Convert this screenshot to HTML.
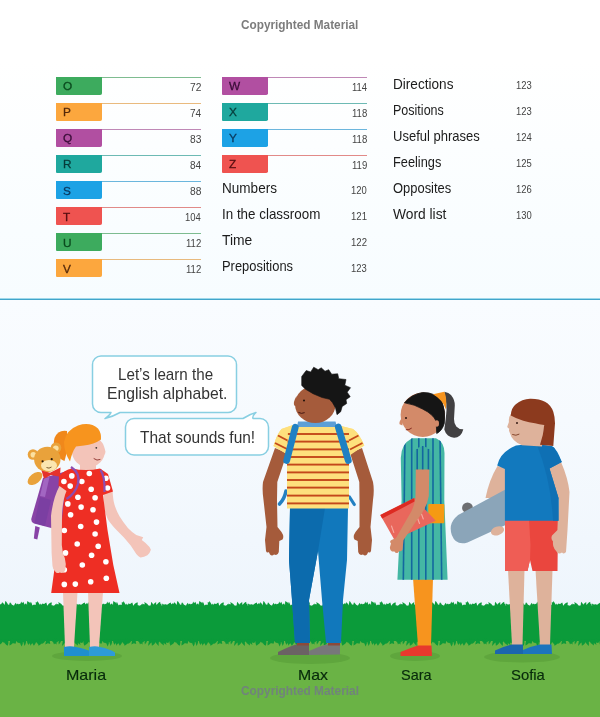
<!DOCTYPE html>
<html lang="en">
<head>
<meta charset="utf-8">
<title>Contents – Let's learn the English alphabet</title>
<style>
*{box-sizing:border-box;margin:0;padding:0}
html,body{width:600px;height:717px;overflow:hidden;background:#fff}
body{font-family:"Liberation Sans",sans-serif;color:#222;position:relative}
.page{position:absolute;left:0;top:0;width:600px;height:717px;overflow:hidden}
.contents{position:absolute;left:0;top:0;width:600px;height:299px;background:linear-gradient(#ffffff 0,#ffffff 60px,#f9fdff 230px,#f7fcff 299px)}
ul.toc{list-style:none}
.t{position:absolute;white-space:nowrap;transform-origin:0 0;display:block}
.ln{position:absolute;width:145.3px;height:1.3px;opacity:.78}
.tab{position:absolute;width:46px;height:17.6px;border-radius:0 0 1.8px 1px;font-size:11.8px;line-height:12px;font-weight:normal;padding:3.2px 0 0 6.9px;-webkit-text-stroke:.3px currentColor}
.lbl{font-size:14.3px;line-height:14.3px;color:#1c1c1c}
.num{font-size:11.8px;line-height:11.8px;color:#444}
.say{font-size:16.4px;line-height:16.4px;color:#333}
.name{font-size:14.3px;line-height:14.3px;color:#072a0b;-webkit-text-stroke:.15px #072a0b}
.wm{font-size:12px;line-height:12px;font-weight:bold;color:#7c7c7c}
.wb{color:rgba(116,108,150,.68)}
.rule{position:absolute;left:0;top:298px;width:600px;height:2px;background:linear-gradient(#9fd8ea 0,#9fd8ea 50%,#41a5cb 50%,#41a5cb 100%)}
.scene{position:absolute;left:0;top:300px;width:600px;height:417px;background:linear-gradient(#f9fcff 0,#f6fafe 120px,#f1f7fd 240px,#eef5fc 310px)}
.scene svg{position:absolute;left:0;top:-300px}
.scene .t{margin-top:-300px}
</style>
</head>
<body>
<div class="page">
  <section class="contents">
    <span class="t wm" style="left:241.21px;top:19.00px;transform:scaleX(0.9831)">Copyrighted Material</span>
    <ul class="toc">
      <li><i class="ln" style="left:56px;top:76.80px;background:#5aa971"></i><b class="tab" style="left:56px;top:77.20px;background:#3dab5e;color:#0a4a1e">O</b><span class="t num" style="left:189.67px;top:82.40px;transform:scaleX(0.8667)">72</span></li>
      <li><i class="ln" style="left:56px;top:102.83px;background:#e3a65a"></i><b class="tab" style="left:56px;top:103.23px;background:#fca73e;color:#55290a">P</b><span class="t num" style="left:189.68px;top:108.40px;transform:scaleX(0.8490)">74</span></li>
      <li><i class="ln" style="left:56px;top:128.86px;background:#ad67a2"></i><b class="tab" style="left:56px;top:129.26px;background:#b14fa1;color:#3a0d38">Q</b><span class="t num" style="left:189.67px;top:134.40px;transform:scaleX(0.8667)">83</span></li>
      <li><i class="ln" style="left:56px;top:154.89px;background:#44a79f"></i><b class="tab" style="left:56px;top:155.29px;background:#1fa89e;color:#063c3a">R</b><span class="t num" style="left:189.68px;top:160.40px;transform:scaleX(0.8490)">84</span></li>
      <li><i class="ln" style="left:56px;top:180.92px;background:#43a2d3"></i><b class="tab" style="left:56px;top:181.32px;background:#1da2e5;color:#0a3a60">S</b><span class="t num" style="left:189.67px;top:186.40px;transform:scaleX(0.8667)">88</span></li>
      <li><i class="ln" style="left:56px;top:206.95px;background:#da6967"></i><b class="tab" style="left:56px;top:207.35px;background:#ef5350;color:#560e10">T</b><span class="t num" style="left:185.10px;top:212.40px;transform:scaleX(0.8000)">104</span></li>
      <li><i class="ln" style="left:56px;top:232.98px;background:#5aa971"></i><b class="tab" style="left:56px;top:233.38px;background:#3dab5e;color:#0a4a1e">U</b><span class="t num" style="left:185.69px;top:238.40px;transform:scaleX(0.8116)">112</span></li>
      <li><i class="ln" style="left:56px;top:259.01px;background:#e3a65a"></i><b class="tab" style="left:56px;top:259.41px;background:#fca73e;color:#55290a">V</b><span class="t num" style="left:185.69px;top:264.40px;transform:scaleX(0.8116)">112</span></li>
    </ul>
<ul class="toc">
      <li><i class="ln" style="left:222px;top:76.80px;background:#ad67a2"></i><b class="tab" style="left:222px;top:77.20px;background:#b14fa1;color:#3a0d38">W</b><span class="t num" style="left:351.90px;top:82.40px;transform:scaleX(0.8000)">114</span></li>
      <li><i class="ln" style="left:222px;top:102.83px;background:#44a79f"></i><b class="tab" style="left:222px;top:103.23px;background:#1fa89e;color:#063c3a">X</b><span class="t num" style="left:351.89px;top:108.40px;transform:scaleX(0.8116)">118</span></li>
      <li><i class="ln" style="left:222px;top:128.86px;background:#43a2d3"></i><b class="tab" style="left:222px;top:129.26px;background:#1da2e5;color:#0a3a60">Y</b><span class="t num" style="left:351.89px;top:134.40px;transform:scaleX(0.8116)">118</span></li>
      <li><i class="ln" style="left:222px;top:154.89px;background:#da6967"></i><b class="tab" style="left:222px;top:155.29px;background:#ef5350;color:#560e10">Z</b><span class="t num" style="left:351.89px;top:160.40px;transform:scaleX(0.8116)">119</span></li>
      <li><span class="t lbl" style="left:221.52px;top:181.30px;transform:scaleX(0.9476)">Numbers</span><span class="t num" style="left:351.30px;top:184.50px;transform:scaleX(0.8000)">120</span></li>
      <li><span class="t lbl" style="left:221.53px;top:207.33px;transform:scaleX(0.9372)">In the classroom</span><span class="t num" style="left:351.29px;top:210.50px;transform:scaleX(0.8111)">121</span></li>
      <li><span class="t lbl" style="left:222.46px;top:233.36px;transform:scaleX(0.9705)">Time</span><span class="t num" style="left:351.29px;top:236.50px;transform:scaleX(0.8111)">122</span></li>
      <li><span class="t lbl" style="left:221.57px;top:259.39px;transform:scaleX(0.9029)">Prepositions</span><span class="t num" style="left:351.30px;top:262.50px;transform:scaleX(0.8000)">123</span></li>
    </ul>
<ul class="toc">
      <li><span class="t lbl" style="left:392.81px;top:77.30px;transform:scaleX(0.9506)">Directions</span><span class="t num" style="left:516.10px;top:80.40px;transform:scaleX(0.8000)">123</span></li>
      <li><span class="t lbl" style="left:392.90px;top:103.33px;transform:scaleX(0.8764)">Positions</span><span class="t num" style="left:516.10px;top:106.40px;transform:scaleX(0.8000)">123</span></li>
      <li><span class="t lbl" style="left:393.09px;top:129.36px;transform:scaleX(0.9099)">Useful phrases</span><span class="t num" style="left:516.10px;top:132.40px;transform:scaleX(0.8000)">124</span></li>
      <li><span class="t lbl" style="left:392.88px;top:155.39px;transform:scaleX(0.8938)">Feelings</span><span class="t num" style="left:516.10px;top:158.40px;transform:scaleX(0.8000)">125</span></li>
      <li><span class="t lbl" style="left:393.32px;top:181.42px;transform:scaleX(0.9048)">Opposites</span><span class="t num" style="left:516.10px;top:184.40px;transform:scaleX(0.8000)">126</span></li>
      <li><span class="t lbl" style="left:393.40px;top:207.45px;transform:scaleX(0.9647)">Word list</span><span class="t num" style="left:516.10px;top:210.40px;transform:scaleX(0.8000)">130</span></li>
    </ul>
  </section>
  <div class="rule"></div>
  <section class="scene">
    <svg width="600" height="717" viewBox="0 0 600 717">
      <!-- grass -->
      <g id="grass">
        <rect x="0" y="636" width="600" height="81" fill="#6ab345"/>
        <g fill="#0b9b3a"><rect x="0" y="605.6" width="600" height="35.4"/><path id="gt" d="M-1.3,608.5Q-3.2,607.7 -2.8,604.7Q0.2,604.5 0.8,606.5ZM0.7,607.5Q0.1,605.2 1.8,602.9Q3.4,605.2 2.7,607.5ZM1.9,608.2Q-0.2,606.8 -0.5,603.8Q2.4,604.6 3.5,606.8ZM3.9,608.0Q1.8,605.5 1.9,601.9Q4.9,603.9 5.8,607.0ZM5.4,607.8Q4.0,604.6 5.6,600.8Q8.4,603.8 8.2,607.2ZM7.4,608.1Q5.9,606.8 7.7,604.3Q10.7,605.0 10.4,606.9ZM8.4,606.9Q8.8,604.9 11.4,604.4Q12.1,607.0 10.5,608.1ZM9.7,607.8Q8.3,605.4 10.0,602.2Q12.8,604.4 12.6,607.2ZM12.4,608.0Q11.0,606.8 11.6,604.5Q13.9,605.2 14.2,607.0ZM13.9,607.3Q13.6,604.8 15.8,602.7Q17.4,605.4 16.3,607.7ZM15.0,607.0Q14.9,604.6 18.0,603.4Q19.6,606.3 17.9,608.0ZM16.8,606.7Q17.8,604.0 21.1,603.2Q21.2,606.7 18.9,608.3ZM18.8,608.5Q16.7,607.5 17.5,604.1Q20.9,604.1 21.5,606.5ZM20.3,607.5Q19.6,604.5 21.3,601.4Q23.1,604.4 22.5,607.5ZM21.0,607.3Q20.5,604.3 23.3,601.8Q25.3,605.0 24.1,607.7ZM23.8,607.3Q23.3,604.9 26.0,603.2Q28.0,605.7 26.8,607.7ZM25.4,606.4Q26.5,604.0 30.0,604.0Q30.1,607.5 27.7,608.6ZM27.1,607.1Q27.5,604.2 30.1,602.1Q30.6,605.4 29.1,607.9ZM28.5,608.1Q26.3,605.2 27.4,601.0Q31.0,603.3 31.4,606.9ZM30.3,607.6Q29.5,604.7 30.9,601.8Q32.7,604.5 32.3,607.4ZM31.7,607.0Q32.0,605.1 34.3,604.2Q34.9,606.6 33.6,608.0ZM33.2,606.7Q33.9,604.6 36.7,604.2Q37.1,607.1 35.3,608.3ZM34.7,606.6Q35.6,604.2 38.9,603.7Q39.1,606.9 36.9,608.4ZM37.3,607.7Q36.1,604.6 37.5,601.1Q39.9,604.0 39.6,607.3ZM38.1,608.5Q35.4,606.3 35.8,602.1Q39.8,603.3 40.9,606.5ZM39.8,607.5Q39.0,605.5 40.8,603.4Q42.7,605.4 42.1,607.5ZM42.1,607.6Q41.2,605.6 42.5,603.3Q44.4,605.2 44.1,607.4ZM42.9,607.0Q42.8,604.1 46.2,602.4Q47.9,605.8 46.1,608.0ZM45.3,608.5Q42.7,607.2 42.4,603.6Q46.1,603.9 47.4,606.5ZM47.1,606.7Q47.8,603.5 51.6,602.2Q52.3,606.1 49.9,608.3ZM48.4,607.3Q48.4,604.8 50.6,602.9Q51.7,605.6 50.5,607.7ZM49.7,608.1Q48.2,607.1 48.8,604.6Q51.3,605.0 51.6,606.9ZM51.9,608.1Q50.4,607.0 50.8,604.7Q53.1,605.2 53.5,606.9ZM53.2,606.9Q54.1,604.7 56.8,603.9Q56.7,606.7 54.9,608.1ZM55.2,607.8Q54.1,606.2 55.4,603.9Q57.7,605.2 57.5,607.2ZM56.7,606.3Q57.4,604.4 60.5,605.1Q60.8,608.2 58.7,608.7ZM58.7,608.2Q56.6,606.6 56.3,603.6Q59.2,604.5 60.3,606.8ZM59.7,608.4Q57.7,607.2 58.6,604.0Q61.9,604.3 62.3,606.6ZM61.1,608.3Q58.5,606.0 58.3,601.9Q62.0,603.5 63.3,606.7ZM63.6,606.5Q64.3,604.8 67.0,605.3Q67.3,608.0 65.5,608.5ZM65.5,607.8Q64.1,605.1 65.3,601.8Q67.8,604.2 67.8,607.2ZM66.2,606.9Q66.9,603.8 70.2,602.1Q70.7,605.8 68.6,608.1ZM68.2,606.3Q69.1,604.3 72.3,604.8Q72.4,608.0 70.3,608.7ZM70.1,606.9Q70.6,603.6 74.1,601.8Q75.2,605.7 73.0,608.1ZM71.6,608.4Q69.2,607.2 68.6,604.0Q71.9,604.3 73.3,606.6ZM72.7,607.1Q72.7,604.9 75.2,603.5Q76.3,606.1 74.9,607.9ZM75.6,606.3Q76.8,603.9 80.4,604.3Q80.3,607.9 77.8,608.7ZM77.3,608.0Q75.6,606.3 76.2,603.4Q78.9,604.6 79.4,607.0ZM77.9,606.6Q78.5,604.5 81.5,604.5Q82.0,607.5 80.1,608.4ZM80.2,606.8Q80.7,604.2 84.0,603.1Q84.8,606.5 82.8,608.2ZM80.7,606.7Q81.2,603.7 84.8,602.5Q85.8,606.2 83.6,608.3ZM83.7,607.0Q84.3,604.4 87.1,603.1Q87.5,606.2 85.7,608.0ZM1.4,640.0Q1.8,643.3 -1.4,645.8Q-3.5,642.3 -1.9,639.4ZM3.2,640.5Q2.2,643.9 -1.7,645.4Q-1.9,641.2 0.7,638.9ZM5.1,638.9Q6.9,640.0 5.6,642.9Q2.4,642.7 2.3,640.5ZM7.5,639.2Q9.3,642.0 7.6,645.8Q4.1,643.5 4.2,640.2ZM9.1,640.5Q7.5,642.8 4.4,643.2Q5.2,640.1 7.6,638.9ZM12.6,638.8Q15.1,640.3 15.5,643.8Q11.9,643.3 10.6,640.6ZM14.2,640.5Q13.4,643.8 9.6,645.4Q9.0,641.3 11.4,638.9ZM15.8,639.5Q16.8,641.6 15.3,644.0Q13.1,642.1 13.5,639.9ZM17.6,639.0Q19.7,640.4 19.9,643.3Q17.0,642.7 16.0,640.4ZM20.2,638.8Q22.4,640.1 22.3,643.5Q19.0,643.0 18.0,640.6ZM22.7,639.6Q23.7,642.9 21.7,646.4Q19.4,643.2 20.0,639.8ZM24.8,640.4Q24.6,642.2 22.0,642.5Q21.1,640.0 22.6,639.0ZM26.1,639.8Q26.6,642.9 24.7,645.9Q23.0,642.7 23.8,639.6ZM29.6,639.7Q30.4,642.3 28.5,645.0Q26.5,642.4 27.1,639.7ZM31.3,639.6Q32.2,642.6 30.8,645.8Q28.8,643.0 29.1,639.8ZM33.4,639.7Q34.3,641.8 31.9,644.0Q29.4,641.9 30.3,639.7ZM36.1,639.9Q36.8,643.0 33.9,645.8Q31.6,642.5 32.9,639.5ZM38.0,639.3Q39.6,641.4 38.4,644.5Q35.5,642.8 35.5,640.1ZM39.6,638.8Q42.0,640.1 42.3,643.5Q38.9,643.1 37.7,640.6ZM42.7,640.4Q42.3,643.8 38.5,645.7Q37.4,641.6 39.7,639.0ZM44.4,640.6Q43.1,643.9 39.1,645.2Q39.0,640.9 41.8,638.8ZM45.4,640.2Q44.9,642.6 42.4,644.1Q41.9,641.2 43.6,639.2ZM47.8,638.7Q50.3,640.3 50.2,644.1Q46.5,643.5 45.4,640.7ZM50.0,640.6Q49.0,643.5 45.4,644.5Q45.2,640.7 47.7,638.8ZM53.1,638.9Q56.0,640.8 57.1,644.5Q53.4,643.4 51.4,640.5ZM55.0,638.8Q57.2,640.3 56.3,643.9Q52.7,643.3 52.2,640.6ZM56.6,640.1Q56.7,642.6 54.0,644.4Q52.6,641.4 54.0,639.3ZM58.5,640.8Q57.5,643.0 54.2,642.6Q54.3,639.4 56.5,638.6ZM61.3,640.0Q61.1,642.5 58.9,644.4Q58.0,641.6 59.3,639.4ZM63.3,638.9Q65.6,640.2 66.4,643.1Q63.4,642.7 61.9,640.5ZM66.0,640.1Q65.2,643.5 62.3,646.0Q62.0,642.2 64.0,639.3ZM66.8,640.4Q65.5,643.3 62.1,644.6Q62.5,641.0 64.9,639.0ZM70.1,640.3Q69.6,643.8 65.9,645.8Q65.0,641.7 67.2,639.1ZM71.7,639.2Q73.6,642.1 72.6,646.0Q69.4,643.6 69.0,640.2ZM73.9,639.9Q74.5,641.7 71.9,643.1Q69.8,641.1 70.9,639.5ZM75.8,639.0Q78.2,641.5 77.9,645.5Q74.2,643.8 73.3,640.4ZM77.5,639.1Q79.9,641.3 80.5,644.9Q77.2,643.3 75.8,640.3ZM80.5,638.8Q82.6,639.8 82.5,643.0Q79.4,642.9 78.5,640.6ZM82.5,640.3Q82.5,642.3 79.7,643.0Q78.5,640.4 80.1,639.1ZM84.1,640.2Q83.7,642.2 81.3,643.0Q80.8,640.5 82.3,639.2Z"/><use href="#gt" x="86"/><use href="#gt" x="172"/><use href="#gt" x="258"/><use href="#gt" x="344"/><use href="#gt" x="430"/><use href="#gt" x="516"/><use href="#gt" x="602"/></g>
      </g>
      <!-- shadows -->
      <g fill="#5fa63d">
        <ellipse cx="87" cy="656" rx="35" ry="5"/>
        <ellipse cx="310" cy="658" rx="40" ry="6"/>
        <ellipse cx="415" cy="656" rx="25" ry="5"/>
        <ellipse cx="522" cy="657" rx="38" ry="5.5"/>
      </g>

      <!-- speech bubbles -->
      <g fill="#fff" stroke="#88cfe2" stroke-width="1.5" stroke-linejoin="round">
        <path d="M101,356 H228 a8.5,8.5 0 0 1 8.5,8.5 V404 a8.5,8.5 0 0 1 -8.5,8.5 H120 Q112,417 105,418.5 Q110,415 111,412.5 H101 a8.5,8.5 0 0 1 -8.5,-8.5 V364.5 a8.5,8.5 0 0 1 8.5,-8.5 Z"/>
        <path d="M134,418.5 H243 Q250,414 256,412.5 Q252,416 253,418.5 H260 a8.5,8.5 0 0 1 8.5,8.5 V446.5 a8.5,8.5 0 0 1 -8.5,8.5 H134 a8.5,8.5 0 0 1 -8.5,-8.5 V427 a8.5,8.5 0 0 1 8.5,-8.5 Z"/>
      </g>

      <!-- Maria -->
      <g id="maria">
        <!-- ponytail -->
        <path d="M67,431 Q58,429.5 54.5,438 Q52,447 57,455 Q60,459.5 64.5,461 Q69,448 67,431 Z" fill="#f0881b"/>
        <!-- teddy -->
        <g>
          <ellipse cx="35" cy="478.5" rx="5" ry="8.5" transform="rotate(52 35 478.5)" fill="#e9a23b"/>
          <circle cx="33" cy="454.5" r="5.3" fill="#e9a23b"/><circle cx="33.3" cy="454.8" r="2.8" fill="#fbe0a0"/>
          <circle cx="56" cy="447.8" r="5.3" fill="#e9a23b"/><circle cx="55.8" cy="448.2" r="2.8" fill="#fbe0a0"/>
          <ellipse cx="47.3" cy="459.3" rx="13.2" ry="12.6" fill="#e9a23b"/>
          <ellipse cx="49" cy="465.5" rx="8" ry="5.6" fill="#fbe6b0"/>
          <circle cx="42.6" cy="461.3" r="1.1" fill="#2a1a0a"/><circle cx="51.7" cy="459.2" r="1.1" fill="#2a1a0a"/>
          <path d="M46.5,467.5 Q49,469 51.5,467" fill="none" stroke="#5a3a10" stroke-width=".8"/>
        </g>
        <!-- backpack -->
        <path d="M43,478 L74,469 Q80,470 79,476 L62,526 Q60,530 55,529 L34,523.5 Q30.5,522 31.5,518 Z" fill="#8843a6"/>
        <path d="M35.3,526 L39.8,527.5 L37.3,539.5 L33.8,538.5 Z" fill="#8843a6"/>
        <path d="M40,497 L51,500 L45,526 L34.5,523 Z" fill="#7b3fa2"/>
        <path d="M44,478.5 L49.5,477 L45,497 L40,496 Z" fill="#a266c2"/>
        <path d="M41.5,470.5 L50,472.8 L60.5,467.5 L60,476.8 L51,475 L44,478.8 Z" fill="#e5322b"/>
        <!-- legs -->
        <path d="M63,592 L77.5,592 L74,647 L65,647 Z" fill="#f3c4b9"/>
        <path d="M88,592 L103,592 L99,647 L90,647 Z" fill="#f3c4b9"/>
        <!-- shoes -->
        <path d="M64,647 Q70,645.5 76,647 Q86,649 92,652 L92,656 L64,656 Z" fill="#1f8fcf"/>
        <path d="M89,647 Q95,645.5 100,647 Q110,649 115,652.5 L115,656 L89,656 Z" fill="#2d9bd8"/>
        <!-- right arm -->
        <path d="M103.5,493 L112.6,491 Q113,500 114.6,505.1 Q116.5,511 119.5,516.3 Q123,522 127.9,528.1 Q132,532.5 136.3,535.1 L143.2,537.2 L141.8,540 Q146,543 149.5,546.9 L150.9,549.7 Q150,553 147.4,555.3 Q144,557.5 140.4,557.4 Q138,556 136.3,553.9 L130.7,545.5 Q127,541 123.7,537.2 L115.3,528.8 Q110,523 107.7,519 Q105,513 104.2,507.9 Z" fill="#f3c4b9"/>
        <!-- neck/face -->
        <rect x="80" y="461" width="16" height="11" fill="#f3c4b9"/>
        <ellipse cx="88.4" cy="451.3" rx="16.5" ry="15.8" fill="#f3c4b9"/>
        <path d="M103.5,447.5 Q107,451.5 104.3,455 Z" fill="#f3c4b9"/>
        <!-- dress -->
        <path d="M72,468.5 Q86,471.5 100,468.5 L108,474 L113,491.5 L103,495 L107.5,530 L113.3,565 L119.5,593 L51.2,593 L55,565 L62,520 L65,490.5 L58.5,486 L59,476 Q64,470 72,468.5 Z" fill="#ee2e24"/>
        <g fill="#fff"><circle cx="71.8" cy="475.9" r="2.8"/><circle cx="89.3" cy="473.5" r="2.8"/><circle cx="63.9" cy="481.5" r="2.8"/><circle cx="70.2" cy="486.1" r="2.8"/><circle cx="81.8" cy="481.5" r="2.8"/><circle cx="91.2" cy="489.2" r="2.8"/><circle cx="105.9" cy="478.2" r="2.8"/><circle cx="107.5" cy="488" r="2.8"/><circle cx="77.9" cy="497.3" r="2.8"/><circle cx="95.1" cy="497.8" r="2.8"/><circle cx="67.8" cy="503.9" r="2.8"/><circle cx="81.1" cy="507.1" r="2.8"/><circle cx="93" cy="509.7" r="2.8"/><circle cx="70.6" cy="514.8" r="2.8"/><circle cx="96.5" cy="522.1" r="2.8"/><circle cx="80.7" cy="526.5" r="2.8"/><circle cx="64.3" cy="530.5" r="2.8"/><circle cx="95.1" cy="534" r="2.8"/><circle cx="77.2" cy="544" r="2.8"/><circle cx="98.2" cy="546.3" r="2.8"/><circle cx="65.5" cy="552.9" r="2.8"/><circle cx="91.6" cy="555.2" r="2.8"/><circle cx="105.9" cy="561.7" r="2.8"/><circle cx="82.3" cy="565" r="2.8"/><circle cx="64.3" cy="569.7" r="2.8"/><circle cx="106.3" cy="578.3" r="2.8"/><circle cx="90.7" cy="581.8" r="2.8"/><circle cx="64.3" cy="584.4" r="2.8"/><circle cx="75.3" cy="584.1" r="2.8"/></g>
        <!-- straps -->
        <path d="M71,467 Q80.5,473 78,484 Q75,494 66.5,499" fill="none" stroke="#8d4db0" stroke-width="2.4"/>
        <path d="M100.5,470 Q105,476 104.5,492" fill="none" stroke="#8d4db0" stroke-width="2.2"/>
        <!-- left arm -->
        <path d="M59.5,486 Q53,498 51,516 L51.6,553 L52.5,566 Q53,569.5 54.5,570.5 L56,572.5 Q58,573.5 59.5,572.5 L62,573 Q64.5,572.5 65.3,570 L65.8,564 Q65.5,558 63,553.5 L61.8,545 L62,516 Q62.5,500 66.5,491 Z" fill="#f3c4b9"/>
        <!-- hair -->
        <path d="M70,461.5 Q64,452 64,442 Q66,430 78,425.5 Q90,421.5 98,428.5 Q101.5,433 101,439.5 Q94,444.5 84,445.5 L76,446.5 Q72,452 70,461.5 Z" fill="#f7941e"/>
        <circle cx="96.3" cy="447.8" r=".9" fill="#333"/>
        <path d="M94,458.7 Q97,461.2 100,459.6" fill="none" stroke="#8a2f2a" stroke-width=".9" stroke-linecap="round"/>
      </g>

      <!-- Max -->
      <g id="max">
        <!-- shoes -->
        <path d="M278,655 L278,652 Q290,646 298,644 L309,644 L309,655 Z" fill="#6b6264"/>
        <path d="M309,655 L309,651 Q320,646 328,644 L340,644 L340,654.5 Z" fill="#77777a"/>
        <rect x="297" y="642" width="12" height="3.5" fill="#8c4a3a"/>
        <rect x="328" y="642" width="12" height="3.5" fill="#8c4a3a"/>
        <!-- jeans -->
        <path d="M290,508 L348,508 L347,560 L343,600 L341,643 L326,643 L322,600 L318,551 L309,600 L310,643 L295,643 L292,600 L289,560 Z" fill="#1178bc"/>
        <path d="M290,508 L325,508 L318,551 L309,600 L310,643 L295,643 L292,600 L289,560 Z" fill="#0c6bad"/>
        <!-- arms -->
        <path d="M275,448 L263,482 Q262,490 263.5,500 L266.5,527 L265,540 L266,551 Q267,553.5 268.8,552 L270,554.5 Q272,556.5 274,554.5 L276,555 Q278,555 278.8,552 L279.3,541 L282.5,539.5 Q284.5,536.5 281.5,532 L277.5,527 L277,500 L277.3,482 L287,453 Z" fill="#a55b3b"/>
        <path d="M362,448 L373,482 Q374.5,490 373,500 L370.5,527 L372,540 L371,551 Q370,553.5 368.2,552 L367,554.5 Q365,556.5 363,554.5 L361,555 Q359,555 358.2,552 L357.7,541 L354.5,539.5 Q352.5,536.5 355.5,532 L359.5,527 L359.5,500 L359.3,482 L350,453 Z" fill="#a55b3b"/>
        <!-- backpack side bits -->
        <path d="M286,491 Q284.5,499 279.5,504" stroke="#2380c2" stroke-width="3.6" stroke-linecap="round" fill="none"/>
        <path d="M349.5,497 L354.3,504.5" stroke="#2380c2" stroke-width="3.2" stroke-linecap="round" fill="none"/>
        <!-- shirt -->
        <path d="M293,425 L337,425 L353,429 Q359,433 364.3,445.5 L351,454.5 L349,458 L349,508.6 L287,508.6 L287,458 L285.5,453.5 L273.5,446 Q277,434 281.5,429 Z" fill="#fee07d"/>
        <g fill="#c4481a"><rect x="287" y="433.05" width="62" height="1.9"/><rect x="287" y="440.65" width="62" height="1.9"/><rect x="287" y="448.45" width="62" height="1.9"/><rect x="287" y="456.05" width="62" height="1.9"/><rect x="287" y="463.65" width="62" height="1.9"/><rect x="287" y="471.45" width="62" height="1.9"/><rect x="287" y="479.05" width="62" height="1.9"/><rect x="287" y="486.65" width="62" height="1.9"/><rect x="287" y="494.65" width="62" height="1.9"/><rect x="287" y="502.45" width="62" height="1.9"/></g>
        <path d="M273.5,446 Q277,434 281.5,429 L293,425 L288,431 L287,454 Z" fill="#fee07d"/>
        <path d="M364.3,445.5 Q359,433 353,429 L337,425 L349,431 L349.5,454.5 Z" fill="#fee07d"/>
        <g stroke="#c4481a" stroke-width="1.9" fill="none">
          <path d="M278,435.5 L287.5,440.5"/><path d="M275,443 L287,449"/>
          <path d="M358.5,435.5 L349,440.5"/><path d="M362.5,443 L350,449.5"/>
        </g>
        <!-- straps -->
        <path d="M298,421.5 L335.5,421.5 L337,427 L297,427 Z" fill="#5d9fd6"/>
        <path d="M295.3,427.2 L286.7,460.5" stroke="#1f80c3" stroke-width="6.8" stroke-linecap="round" fill="none"/>
        <path d="M338.3,427 L348.3,460.5" stroke="#1f80c3" stroke-width="6.8" stroke-linecap="round" fill="none"/>
        <!-- head -->
        <ellipse cx="315.3" cy="404.3" rx="20.3" ry="18.8" fill="#a55b3b"/>
        <path d="M296.5,396 Q292.8,402.5 294.3,405.5 L297.5,407 Z" fill="#a55b3b"/>
        <!-- hair -->
        <path d="M301.7,385.5 L301.7,376.5 L306.2,370.5 L310.7,372 L313.7,367.2 L318.2,369.7 L321.2,367.8 L325,371.2 L328.7,369.7 L331.7,374.2 L337.7,373.8 L338.8,378.7 L346,379.5 L344.8,385.2 L350.5,387.7 L347.2,392.2 L350.2,396.7 L346,399.7 L346.7,403.5 L342.2,406.5 L340.7,411.7 L337,414.7 L335.5,408 L332.5,402.7 L329.5,399.3 L322,397.5 L313,393.7 L305.5,389.2 Z" fill="#151515" stroke="#151515" stroke-width=".6" stroke-linejoin="round"/>
        <circle cx="304" cy="400.5" r=".95" fill="#1a0d08"/>
        <path d="M298.7,412.6 Q301.5,414.2 304.3,412.8" fill="none" stroke="#3a0f0c" stroke-width=".9" stroke-linecap="round"/>
      </g>

      <!-- Sara -->
      <g id="sara">
        <!-- legs -->
        <path d="M413,578 L433,578 L431,646 L418,646 Z" fill="#f7941e"/>
        <path d="M400.5,656 L400.5,652 Q410,648 418,645.5 L431.5,645.5 L432,656 Z" fill="#e7392d"/>
        <!-- ponytail -->
        <path d="M444.3,391.7 Q449,392.5 451,395 Q455,400 454.8,405.5 L454,419 Q454,424 456.3,426.5 Q459,429.5 463.3,429.3 Q462.5,433 460,435.5 Q457,438 454,437.8 Q450.5,437.5 448,435.5 Q445,432.5 444.3,429.5 Q446,418 446.5,410 Q446.5,404 445.7,399.5 Z" fill="#414042"/>
        <!-- dress -->
        <clipPath id="sd"><path d="M412,438.3 L436,438.3 Q444.3,442 444.5,453 L444.3,500 L447.6,579.8 L397.4,579.8 L401.6,500 L400.8,458 Q401,444 412,438.3 Z"/></clipPath>
        <path d="M412,438.3 L436,438.3 Q444.3,442 444.5,453 L444.3,500 L447.6,579.8 L397.4,579.8 L401.6,500 L400.8,458 Q401,444 412,438.3 Z" fill="#44b7a4"/>
        <g stroke="#13679f" stroke-width="1.6" fill="none" clip-path="url(#sd)"><line x1="405" y1="436" x2="403.3" y2="581"/><line x1="411.7" y1="436" x2="411.7" y2="581"/><line x1="418.8" y1="436" x2="418.8" y2="581"/><line x1="425.8" y1="436" x2="425.8" y2="581"/><line x1="433" y1="436" x2="433" y2="581"/><line x1="440" y1="436" x2="441.7" y2="581"/></g>
        <!-- bag -->
        <rect x="428.3" y="504" width="16" height="19.3" rx="1" fill="#f59a13"/>
        <!-- sleeve -->
        <path d="M414,470 L414,456 Q414,446.7 422.8,446.7 Q431.7,446.7 431.7,456 L431.7,470 Z" fill="#3fb09f"/>
        <g stroke="#13679f" stroke-width="1.6"><line x1="417.2" y1="449" x2="417.2" y2="470"/><line x1="422.7" y1="446" x2="422.7" y2="470"/><line x1="428.4" y1="449" x2="428.4" y2="470"/></g>
        <!-- book -->
        <path d="M380.3,515 L414.2,498 L435.8,520.8 L394.5,540 Z" fill="#e9675c"/>
        <path d="M380.3,515 L414.2,498 L414.6,501.6 L382.2,518.6 Z" fill="#dd2a22"/>
        <path d="M391.5,526 L393.8,532.5 M417.3,517.5 L419.5,523.5 M421.5,514 L423.3,519" stroke="#f6aaa2" stroke-width="1.1" fill="none" stroke-linecap="round"/>
        <!-- arm -->
        <path d="M415.8,469.5 L429.3,469.5 L428.8,496 Q427,508 417,520 L403.5,540 L402.5,549.5 Q401.5,552 399.5,551 L397.5,553 Q395.5,553.5 394.5,551.5 L392,551.5 Q389.5,550 390,547 L391,543.5 Q389,541.5 391.5,540 L396,538 Q404,524 411,512 Q415.5,503 415.5,495 Z" fill="#d38a69"/>
        <!-- head -->
        <circle cx="422.8" cy="414.8" r="22.2" fill="#d38a69"/>
        <path d="M402.3,417.5 Q398.5,422 399.6,424.3 L402.5,425.5 Z" fill="#d38a69"/>
        <path d="M404.5,402.8 Q411,394.5 422.5,392.5 Q435,392 442,401.5 Q446,412 444.3,423.5 Q442,431 436.7,433.5 L436.2,421.3 Q433,414 422.5,409 Q415,404.5 404.5,402.8 Z" fill="#151515" stroke="#151515" stroke-width=".8" stroke-linejoin="round"/>
        <ellipse cx="436.8" cy="423.5" rx="2.2" ry="3.2" fill="#d38a69"/>
        <path d="M433,394.3 L444.3,391.7 Q447.3,398 445.8,409.5 Q443,400 433,394.3 Z" fill="#f7941e"/>
        <circle cx="406" cy="418" r="1" fill="#2a120c"/>
        <path d="M406.2,429.8 Q409,430.3 411.4,428.3" fill="none" stroke="#7a1f18" stroke-width=".9" stroke-linecap="round"/>
      </g>

      <!-- Sofia -->
      <g id="sofia">
        <!-- legs -->
        <path d="M508,570 L524.5,570 L522.5,645 L512,645 Z" fill="#deb29b"/>
        <path d="M535.5,570 L552.5,570 L550,645 L540,645 Z" fill="#deb29b"/>
        <path d="M495,654 L495,650.5 Q504,646 512,644.5 L523,644.5 L523,654 Z" fill="#1b66ad"/>
        <path d="M523,654 L523,650 Q532,646 540,644.5 L551.5,644.5 L552,654 Z" fill="#1c74bd"/>
        <!-- left arm -->
        <path d="M497.5,466 L506,468 L506,498 L485.5,498 Q489,480 497.5,466 Z" fill="#deb29b"/>
        <!-- wheel -->
        <circle cx="467.5" cy="507.8" r="5.4" fill="#6d6e71"/>
        <!-- skateboard -->
        <path d="M463.3,512.3 L510,487 L510,523 L467.5,542.5 Q456,546 451.8,535 Q448.5,525 455,518 Q458,514.5 463.3,512.3 Z" fill="#8ba5b9"/>
        <ellipse cx="497.5" cy="530.8" rx="6.8" ry="4.3" transform="rotate(-18 497.5 530.8)" fill="#deb29b"/>
        <!-- shorts -->
        <path d="M505,520 L558,520 L557.5,571 L532.5,571 L530,560 L527.5,571 L505,571 Z" fill="#ea463e"/>
        <path d="M505,520 L529,520 L530.5,545 L530,560 L527.5,571 L505,571 Z" fill="#ef5d55"/>
        <!-- right arm -->
        <path d="M549,468 L561,462 Q568,478 569.5,492 L567.5,530 L566,552 Q564,554.5 562,552.5 L560,553.5 Q557.5,554 556.5,551.5 L554.5,549 Q552.5,546 553,541.5 Q550.5,539 552,535.5 L557.5,530 L558.5,500 Z" fill="#deb29b"/>
        <!-- shirt -->
        <path d="M516,445.5 Q530,443.5 552,446 Q557,449 561.8,462 L549.5,468.5 L558.5,498 L558.5,520.8 L504.9,520.8 L504.9,469 L497.2,465.5 Q500,452 516,445.5 Z" fill="#1279be"/>
        <path d="M537,445 Q548,445 554,447.5 L561.8,462 L549.5,468.5 L558.5,498 L558.5,520.8 L553,520.8 Q551,480 537,445 Z" fill="#0f70b4"/>
        <!-- head -->
        <path d="M510.8,414 L544.5,422 L542,446.5 L522,445.3 Q512,441.5 509.7,432.5 Q508.5,430.5 509.3,428.8 Q507,428 507.3,426.5 L508.9,422 Q508.5,417 510.8,414 Z" fill="#deb29b"/>
        <path d="M510.8,415.5 Q511,408 515.8,404.2 Q522,399 530,398.7 Q539,398.5 545,401.7 Q551,405 553.3,411.7 Q555,417 555,423.3 L553.3,446 L540,444.8 Q543.5,435 544.2,425 Q539,424.5 535,423.3 Q529,422.5 523.3,420.8 Q516,418.5 510.8,415.5 Z" fill="#8c3a1e"/>
        <circle cx="517" cy="423" r=".95" fill="#2a120c"/>
        <path d="M512.6,434.6 Q516,436.2 519,434.3" fill="none" stroke="#7a3a20" stroke-width=".9" stroke-linecap="round"/>
      </g>
    </svg>
    <p><span class="t say" style="left:117.84px;top:365.80px;transform:scaleX(0.9261)">Let’s learn the</span><span class="t say" style="left:106.70px;top:385.40px;transform:scaleX(0.9577)">English alphabet.</span></p>
    <p><span class="t say" style="left:140.36px;top:429.20px;transform:scaleX(0.9430)">That sounds fun!</span></p>
    <p><span class="t name" style="left:65.60px;top:667.60px;transform:scaleX(1.1217)">Maria</span><span class="t name" style="left:297.81px;top:667.60px;transform:scaleX(1.1098)">Max</span><span class="t name" style="left:400.54px;top:667.60px;transform:scaleX(1.0136)">Sara</span><span class="t name" style="left:511.22px;top:667.60px;transform:scaleX(1.0394)">Sofia</span></p>
    <span class="t wm wb" style="left:241.21px;top:684.70px;transform:scaleX(0.9881)">Copyrighted Material</span>
  </section>
</div>
</body>
</html>
